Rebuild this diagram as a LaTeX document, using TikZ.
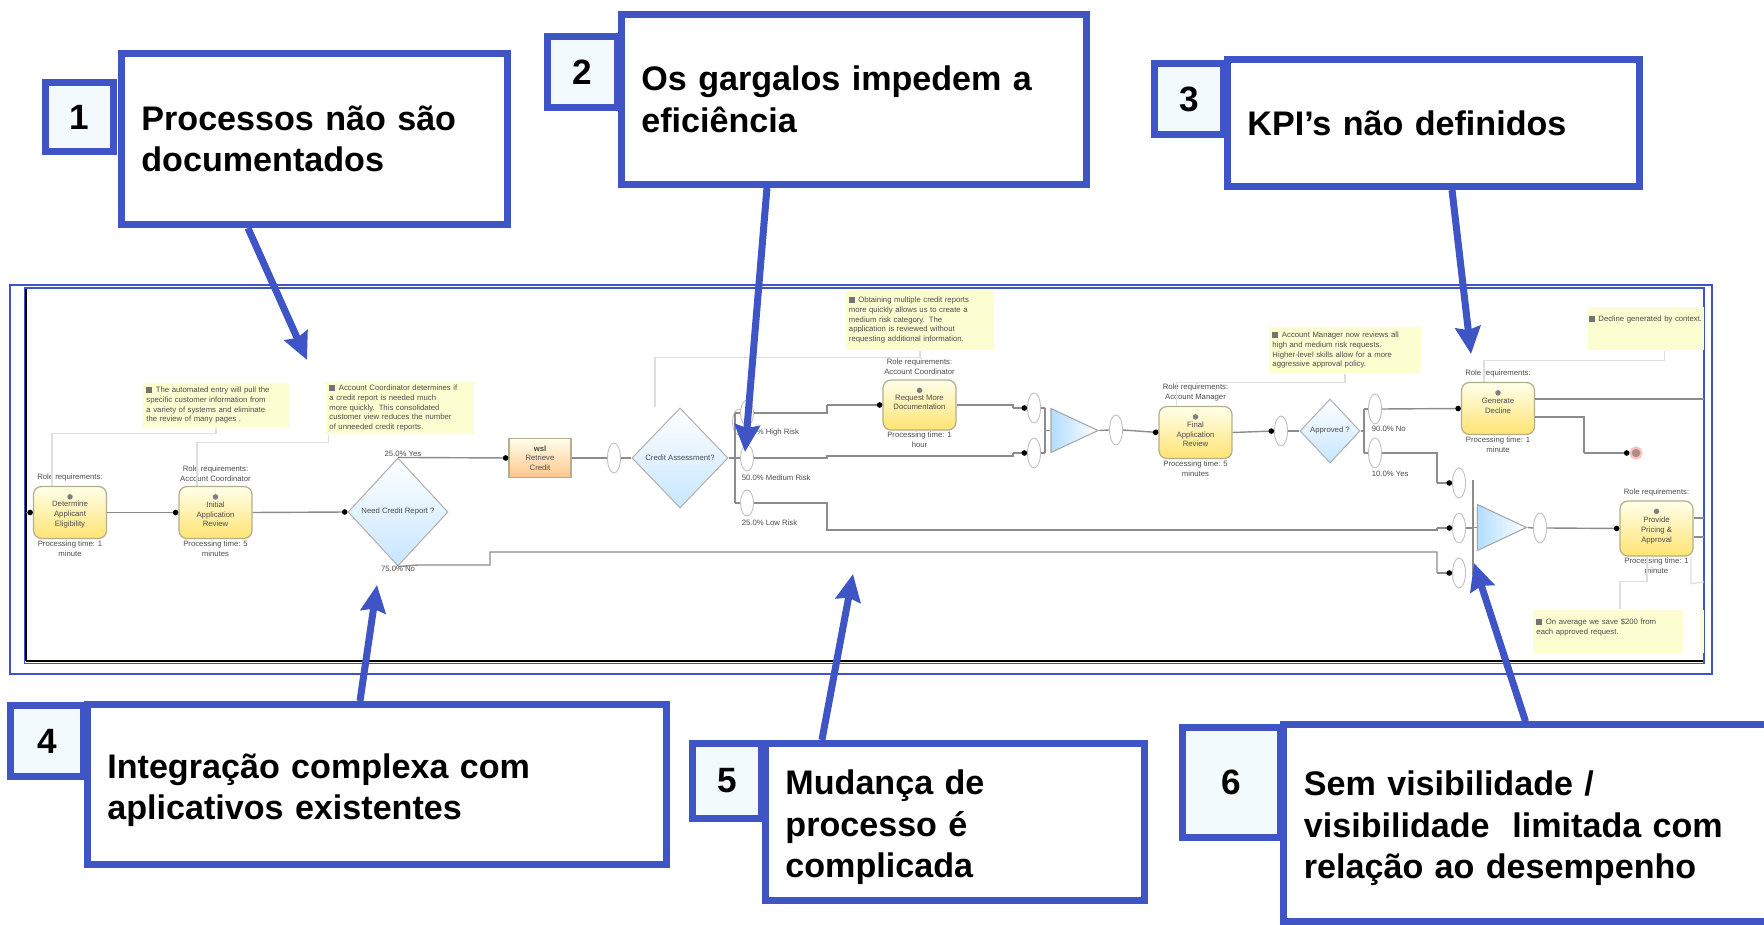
\documentclass[tikz,border=0pt]{standalone}
\usepackage{fontspec}
\setmainfont{Liberation Sans}
\usepackage{xcolor}
\usetikzlibrary{arrows,arrows.meta,calc,shapes}
\definecolor{barblue}{HTML}{3F55C6}
\definecolor{numfill}{HTML}{F3FAFD}
\definecolor{notefill}{HTML}{FDFDD2}
\definecolor{taskedge}{HTML}{B5AE8C}
\definecolor{flowgray}{HTML}{8C8C8C}
\newcommand{\tinytext}{\fontsize{2.2}{2.75}\selectfont}
\newcommand{\notemark}{\textcolor{black!55}{\rule{1.7pt}{1.7pt}}\hspace{1pt}}
\newcommand{\lowfirst}{\rule{0pt}{10.2pt}}
\tikzset{
    callbox/.style 2 args={draw=barblue,line width=0.07cm,fill=white,text width=#1,minimum height=#2,
        inner xsep=0.2cm,inner ysep=0pt,align=left,font=\fontsize{9.7}{11.8}\selectfont\bfseries},
    numbox/.style 2 args={draw=barblue,line width=0.07cm,fill=numfill,minimum width=#1,minimum height=#2,
        inner sep=0pt,font=\fontsize{10}{12}\selectfont\bfseries},
    callarrow/.style={-{Stealth[length=0.27cm,width=0.25cm,inset=0.03cm]},draw=barblue,line width=0.07cm},
    tasknode/.style={draw=taskedge,line width=0.35pt,rounded corners=0.08cm,top color=yellow!8,bottom color=yellow!60!orange!55,
        minimum width=0.73cm,minimum height=0.52cm,inner sep=0pt,align=center,font=\tinytext,text=black!70},
    taskicon/.style={circle,fill=black!50,minimum size=0.055cm,inner sep=0pt},
    gatenode/.style={diamond,draw=black!30,line width=0.3pt,top color=white,bottom color=blue!45!cyan!22,inner sep=0pt,
        align=center,font=\tinytext,text=black!70},
    mergenode/.style={isosceles triangle,isosceles triangle stretches,draw=black!35,line width=0.3pt,left color=blue!45!cyan!30,right color=white,
        inner sep=0pt},
    ovalnode/.style={ellipse,draw=black!25,line width=0.25pt,fill=white,minimum width=0.13cm,minimum height=0.3cm,inner sep=0pt},
    notebox/.style={fill=notefill,inner sep=0.03cm,anchor=center,font=\tinytext,text=black!70,align=left},
    smalltext/.style={font=\tinytext,text=black!70,inner sep=0.3pt,align=center},
    flowline/.style={draw=flowgray,line width=0.4pt},
    flowdot/.style={flowline,-{Circle[length=0.055cm,black]}},
    notelink/.style={draw=black!13,line width=0.35pt},
}
\begin{document}
\begin{tikzpicture}[x=0.01cm,y=-0.01cm]
    \path[use as bounding box,fill=white] (0,0) rectangle (1764,925);
    % frames of the process picture
    \draw [barblue,line width=0.35pt] (10,285) rectangle (1712,674);
    \draw [black,line width=0.6pt] (26,661) -- (1703,661);
    \draw [black,line width=0.6pt] (26,289) -- (26,661);
    \draw [barblue,line width=0.4pt] (24.5,288) rectangle (1704,663.5);
    % notes
    \node [notebox,minimum width=1.45cm,minimum height=0.44cm,text width=1.39cm] (note1) at (216,405) {\notemark The automated entry will pull the\\ specific customer information from\\ a variety of systems and eliminate\\ the review of many pages .};
    \node [notebox,minimum width=1.47cm,minimum height=0.51cm,text width=1.41cm] (note2) at (400,408) {\notemark Account Coordinator determines if\\ a credit report is needed much\\ more quickly. This consolidated\\ customer view reduces the number\\ of unneeded credit reports.};
    \node [notebox,minimum width=1.48cm,minimum height=0.6cm,text width=1.42cm] (note3) at (920,320) {\notemark Obtaining multiple credit reports\\ more quickly allows us to create a\\ medium risk category. The\\ application is reviewed without\\ requesting additional information.};
    \node [notebox,minimum width=1.51cm,minimum height=0.46cm,text width=1.45cm] (note4) at (1345,350) {\notemark Account Manager now reviews all\\ high and medium risk requests.\\ Higher-level skills allow for a more\\ aggressive approval policy.};
    \node [notebox,minimum width=1.16cm,minimum height=0.43cm,text width=1.14cm,inner xsep=0.01cm] (note5) at (1646,328.5) {\notemark Decline generated by context.\\ \mbox{}\\ \mbox{}};
    \node [notebox,minimum width=1.49cm,minimum height=0.43cm,text width=1.43cm] (note6) at (1608,631.5) {\notemark On average we save \$200 from\\ each approved request.\\ \mbox{}};
    \node [notebox,minimum width=0.04cm,minimum height=0.43cm,inner sep=0pt] (note7) at (1702,631.5) {};
    % tasks and gates
    \node [tasknode,label={[smalltext,label distance=0.03cm]above:Role requirements:},label={[smalltext]below:Processing time: 1\\minute}] (determine) at (70,512.5) {\\Determine\\Applicant\\Eligibility};
    \node [tasknode,label={[smalltext,label distance=0.03cm]above:Role requirements:\\Account Coordinator},label={[smalltext]below:Processing time: 5\\minutes}] (review) at (215.5,512.5) {\\Initial\\Application\\Review};
    \node [gatenode,minimum width=1cm,minimum height=1.08cm] (needcredit) at (398,512) {Need Credit Report ?};
    \node [tasknode,rounded corners=0pt,minimum width=0.62cm,minimum height=0.39cm,bottom color=orange!45] (refcredit) at (540,458) {\textbf{wsl}\\Retrieve\\Credit};
    \node [ovalnode] (creditoval) at (614,458) {};
    \node [gatenode,minimum width=0.96cm,minimum height=1cm] (assess) at (680,458) {Credit Assessment?};
    \node [ovalnode,minimum height=0.26cm] (highback) at (739,422) {};
    \node [ovalnode,minimum height=0.26cm] (highoval) at (747,413) {};
    \node [ovalnode,minimum height=0.26cm] (medoval) at (747,458) {};
    \node [ovalnode,minimum height=0.26cm] (lowoval) at (747,503) {};
    \node [tasknode,minimum height=0.5cm,label={[smalltext,label distance=0.03cm]above:Role requirements:\\Account Coordinator},label={[smalltext]below:Processing time: 1\\hour}] (moredocs) at (919.5,405) {\\Request More\\Documentation\\ };
    \node [ovalnode] (joinone) at (1034,408) {};
    \node [ovalnode] (jointwo) at (1034,453) {};
    \node [mergenode,minimum height=0.47cm,minimum width=0.44cm] (mergeone) at (1065,430.5) {};
    \node [ovalnode] (afterone) at (1116,430) {};
    \node [tasknode,label={[smalltext,label distance=0.03cm]above:Role requirements:\\Account Manager},label={[smalltext]below:Processing time: 5\\minutes}] (final) at (1195.5,432.5) {\\Final\\Application\\Review};
    \node [ovalnode] (finaloval) at (1281,431) {};
    \node [gatenode,minimum width=0.6cm,minimum height=0.64cm] (approved) at (1330,431) {Approved ?};
    \node [ovalnode] (decoval) at (1375,409) {};
    \node [ovalnode] (retoval) at (1375,453) {};
    \node [tasknode,label={[smalltext,label distance=0.03cm]above:Role requirements:},label={[smalltext]below:Processing time: 1\\minute}] (decline) at (1498,408.5) {\\Generate\\Decline\\ };
    \node [circle,fill=red!30!black!45,draw=red!25,line width=0.6pt,minimum size=0.11cm,inner sep=0pt] (stopnode) at (1636,453) {};
    \node [ovalnode] (inone) at (1459,483) {};
    \node [ovalnode] (intwo) at (1459,528) {};
    \node [ovalnode] (inthree) at (1459,573) {};
    \node [mergenode,minimum height=0.49cm,minimum width=0.46cm] (mergetwo) at (1492,527.5) {};
    \node [ovalnode] (aftertwo) at (1540,528) {};
    \node [tasknode,minimum height=0.55cm,label={[smalltext,label distance=0.03cm]above:Role requirements:},label={[smalltext]below:Processing time: 1\\minute}] (pricing) at (1656.5,528.5) {\\Provide\\Pricing \&\\Approval};
    \foreach \t in {determine,review,moredocs,final,decline,pricing}{
        \node [taskicon] at ([yshift=-0.11cm]\t.north) {};
    }
    % percentages on the gates
    \node [smalltext] (p1) at (403,454) {25.0\% Yes};
    \node [smalltext] (p2) at (398,569) {75.0\% No};
    \node [smalltext,anchor=west] (p3) at (740,433) {25.0\% High Risk};
    \node [smalltext,anchor=west] (p4) at (740,478) {50.0\% Medium Risk};
    \node [smalltext,anchor=west] (p5) at (740,523) {25.0\% Low Risk};
    \node [smalltext,anchor=west] (p6) at (1370,429) {90.0\% No};
    \node [smalltext,anchor=west] (p7) at (1370,474) {10.0\% Yes};
    % sequence flow
    \coordinate (gateout) at (418,565);
    \coordinate (rightone) at (1704,399);
    \coordinate (righttwo) at (1704,518);
    \coordinate (rightthree) at (1704,537);
    \coordinate (lowedge) at (1704,582);
    \draw [flowdot] (26,512.5) -- (determine.west);
    \draw [flowdot] (determine.east) -- (review.west);
    \draw [flowdot] (review.east) -- (needcredit.west);
    \draw [flowdot] (needcredit.north) -- (refcredit.west);
    \draw [flowline] (needcredit.south) -- (gateout) -- (490,565) -- (490,552) -- (1437,552) -- (1437,573);
    \draw [flowdot] (1437,573) -- (inthree.west);
    \draw [flowline] (refcredit.east) -- (creditoval.west);
    \draw [flowline] (creditoval.east) -- (assess.west);
    \draw [flowline] (assess.east) -- (735,458);
    \draw [flowline] (735,413) -- (735,503);
    \draw [flowline] (735,413) -- (highoval.west);
    \draw [flowline] (735,503) -- (lowoval.west);
    \draw [flowline] (735,458) -- (medoval.west);
    \draw [flowline,line width=0.5pt] (highoval.east) -- (827,413) -- (827,405);
    \draw [flowdot] (827,405) -- (moredocs.west);
    \draw [flowline,line width=0.5pt] (medoval.east) -- (827,458) -- (827,456) -- (1013,456) -- (1013,453);
    \draw [flowdot] (1013,453) -- (jointwo.west);
    \draw [flowline] (moredocs.east) -- (1013,405) -- (1013,408);
    \draw [flowdot] (1013,408) -- (joinone.west);
    \draw [flowline] (1045,408) -- (1045,453);
    \draw [flowline] (joinone.east) -- (1045,408);
    \draw [flowline] (jointwo.east) -- (1045,453);
    \draw [flowline] (1045,430.5) -- (mergeone.west);
    \draw [flowline] (mergeone.apex) -- (afterone.west);
    \draw [flowdot] (afterone.east) -- (final.west);
    \draw [flowdot] (final.east) -- (finaloval.west);
    \draw [flowline] (finaloval.east) -- (approved.west);
    \draw [flowline] (approved.east) -- (1364,431);
    \draw [flowline] (1364,409) -- (1364,453);
    \draw [flowline] (1364,409) -- (decoval.west);
    \draw [flowline] (1364,453) -- (retoval.west);
    \draw [flowdot] (decoval.east) -- (decline.west);
    \draw [flowline] (retoval.east) -- (1437,453) -- (1437,483);
    \draw [flowdot] (1437,483) -- (inone.west);
    \draw [flowline,line width=0.5pt] (lowoval.east) -- (827,503) -- (827,530) -- (1437,530) -- (1437,528);
    \draw [flowdot] (1437,528) -- (intwo.west);
    \draw [flowline] (1473,480) -- (1473,575);
    \draw [flowline] (intwo.east) -- (1473,528);
    \draw [flowline] (1473,527.5) -- (mergetwo.west);
    \draw [flowdot] (aftertwo.east) -- (pricing.west);
    \draw [flowline] (mergetwo.apex) -- (aftertwo.west);
    \draw [flowline] (decline.east |- rightone) -- (rightone);
    \draw [flowline] (1535,417) -- (1584,417) -- (1584,453);
    \draw [flowdot] (1584,453) -- (stopnode.west);
    \draw [flowline] (pricing.east |- righttwo) -- (righttwo);
    \draw [flowline] (pricing.east |- rightthree) -- (rightthree);
    % links from the notes
    \draw [notelink] ([xshift=-0.18cm]determine.north) |- ([yshift=-0.06cm]note1.south) -- (note1.south);
    \draw [notelink] ([xshift=-0.185cm]review.north) |- ([xshift=0.03cm,yshift=-0.08cm]note2.south west) -- ([xshift=0.03cm]note2.south west);
    \draw [notelink] ([xshift=-0.25cm]assess.north) |- ([yshift=-0.07cm]note3.south) -- (note3.south);
    \draw [notelink] ([xshift=-0.19cm]final.north) |- ([yshift=-0.09cm]note4.south) -- (note4.south);
    \draw [notelink] ([xshift=-0.14cm]decline.north) |- ([xshift=-0.4cm,yshift=-0.1cm]note5.south east) -- ([xshift=-0.4cm]note5.south east);
    \draw [notelink] ([xshift=0.12cm]note6.north) -- ++(0,-28) -| ([xshift=-0.095cm]pricing.south);
    \draw [notelink] ([xshift=0.345cm]pricing.south) -- ++(0,27) -- (lowedge);
    % call-outs
    \node [callbox={3.46cm}{1.71cm}] (procbox) at (314.5,139) {Processos não são\\documentados};
    \node [numbox={0.68cm}{0.69cm}] (procnum) at (79.5,117) {1};
    \node [callbox={4.25cm}{1.70cm}] (gargbox) at (854,99.5) {Os gargalos impedem a\\eficiência};
    \node [numbox={0.69cm}{0.71cm}] (gargnum) at (582.5,72) {2};
    \node [callbox={3.72cm}{1.27cm}] (kpibox) at (1433.5,123) {KPI’s não definidos};
    \node [numbox={0.69cm}{0.71cm}] (kpinum) at (1189,99) {3};
    \node [callbox={5.39cm}{1.60cm}] (integbox) at (377,784.5) {\lowfirst Integração complexa com\\aplicativos existentes};
    \node [numbox={0.73cm}{0.71cm}] (integnum) at (47,741) {4};
    \node [callbox={3.39cm}{1.57cm}] (mudbox) at (955,822) {\lowfirst Mudança de\\processo é\\complicada};
    \node [numbox={0.69cm}{0.75cm}] (mudnum) at (727,781) {5};
    \node [callbox={4.48cm}{1.96cm}] (visbox) at (1528,823) {\lowfirst Sem visibilidade /\\visibilidade\ \ limitada com\\relação ao desempenho};
    \node [numbox={0.98cm}{1.10cm}] (visnum) at (1231.5,782.5) {6};
    % arrows of the call-outs
    \coordinate (tipone) at (307,360);
    \coordinate (tiptwo) at (745,452);
    \coordinate (tipthree) at (1471,354);
    \coordinate (tipfour) at (377,585);
    \coordinate (tipfive) at (853,574);
    \coordinate (tipsix) at (1474,563);
    \draw [callarrow] ([xshift=1.30cm]procbox.south west) -- (tipone);
    \draw [callarrow] ([xshift=1.49cm]gargbox.south west) -- (tiptwo);
    \draw [callarrow] ([xshift=2.28cm]kpibox.south west) -- (tipthree);
    \draw [callarrow] ([xshift=2.76cm]integbox.north west) -- (tipfour);
    \draw [callarrow] ([xshift=0.6cm]mudbox.north west) -- (tipfive);
    \draw [callarrow] ([xshift=2.45cm]visbox.north west) -- (tipsix);
\end{tikzpicture}
\end{document}
